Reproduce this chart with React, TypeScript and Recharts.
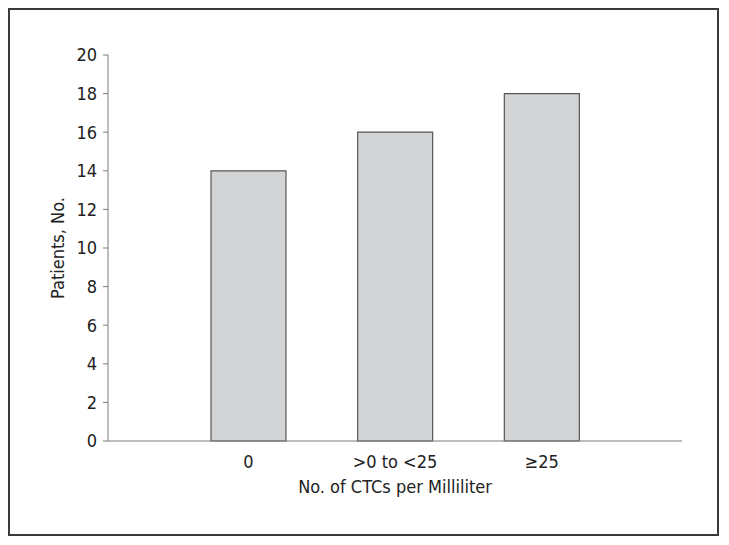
import { BarChart, Bar, XAxis, YAxis } from 'recharts'

const categories = ['0', '>0 to <25', '≥25']
const patients = [14, 16, 18]
const yTicks = [0, 2, 4, 6, 8, 10, 12, 14, 16, 18, 20]

const data = categories.map((c, i) => ({ name: c, value: patients[i] }))

const font = '"Liberation Sans Narrow", "DejaVu Sans Condensed", "Liberation Sans", sans-serif'
const axisColor = '#7a7a7a'
const textColor = '#222'

const YLabel = (props: any) => {
  const vb = props.viewBox || {}
  const x = vb.x + 9
  const y = vb.y + vb.height / 2
  return (
    <text
      x={x}
      y={y}
      transform={`rotate(-90, ${x}, ${y})`}
      textAnchor="middle"
      dominantBaseline="central"
      fill={textColor}
      fontSize={18}
      fontFamily={font}
    >
      Patients, No.
    </text>
  )
}

export default function App() {
  return (
    <div
      style={{
        width: 711,
        height: 528,
        border: '2px solid #3a3a3a',
        boxSizing: 'border-box',
        background: '#fff',
        fontFamily: font,
      }}
    >
      <BarChart
        width={707}
        height={524}
        data={data}
        margin={{ top: 45, right: 35, bottom: 33, left: 38 }}
        barSize={75}
      >
        <XAxis
          dataKey="name"
          stroke={axisColor}
          tickLine={false}
          tickSize={0}
          tickMargin={14}
          height={60}
          padding={{ left: 67, right: 67 }}
          tick={{ fill: textColor, fontSize: 18, fontFamily: font }}
          label={{
            value: 'No. of CTCs per Milliliter',
            position: 'insideBottom',
            offset: 8,
            fill: textColor,
            fontSize: 18,
            fontFamily: font,
          }}
        />
        <YAxis
          width={60}
          domain={[0, 20]}
          ticks={yTicks}
          interval={0}
          stroke={axisColor}
          tickSize={5}
          tickMargin={6}
          tick={{ fill: textColor, fontSize: 18, fontFamily: font }}
          label={<YLabel />}
        />
        <Bar dataKey="value" fill="#d3d4d6" stroke="#555" strokeWidth={1.2} isAnimationActive={false} />
      </BarChart>
    </div>
  )
}
